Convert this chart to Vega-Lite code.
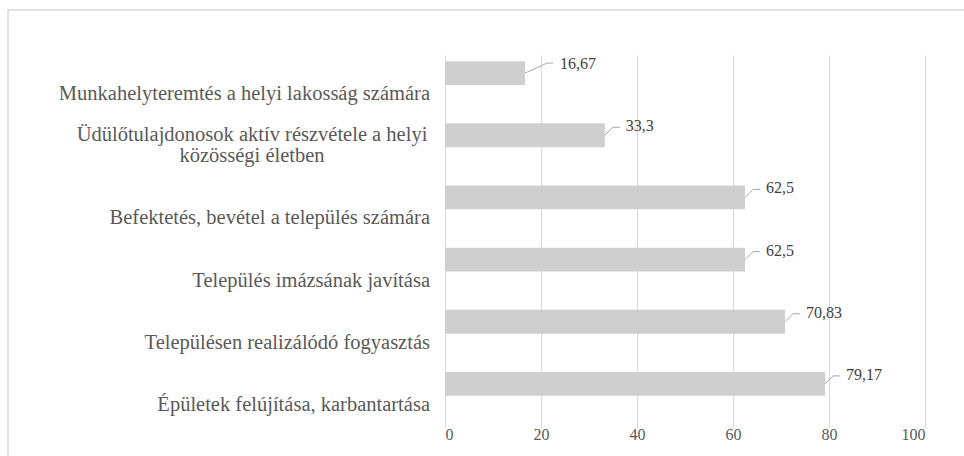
{
  "$schema": "https://vega.github.io/schema/vega-lite/v6.json",
  "width": 961,
  "height": 450,
  "autosize": {"type": "none"},
  "padding": {"left": 8, "top": 10, "right": -5, "bottom": -4},
  "background": "white",
  "config": {
    "view": {"stroke": "#d9d9d9", "strokeWidth": 1.5},
    "font": "Liberation Serif"
  },
  "data": {
    "values": [
      {"cat": "Munkahelyteremtés a helyi lakosság számára", "value": 16.67, "label": "16,67"},
      {"cat": "Üdülőtulajdonosok aktív részvétele a helyi\nközösségi életben", "value": 33.3, "label": "33,3"},
      {"cat": "Befektetés, bevétel a település számára", "value": 62.5, "label": "62,5"},
      {"cat": "Település imázsának javítása", "value": 62.5, "label": "62,5"},
      {"cat": "Településen realizálódó fogyasztás", "value": 70.83, "label": "70,83"},
      {"cat": "Épületek felújítása, karbantartása", "value": 79.17, "label": "79,17"}
    ]
  },
  "encoding": {
    "y": {
      "field": "cat",
      "type": "nominal",
      "sort": null,
      "axis": null,
      "scale": {
        "domain": [
          "Munkahelyteremtés a helyi lakosság számára",
          "Üdülőtulajdonosok aktív részvétele a helyi\nközösségi életben",
          "Befektetés, bevétel a település számára",
          "Település imázsának javítása",
          "Településen realizálódó fogyasztás",
          "Épületek felújítása, karbantartása"
        ],
        "range": [32, 405],
        "paddingInner": 0.616,
        "paddingOuter": 0.308
      }
    }
  },
  "layer": [
    {
      "mark": {"type": "bar", "color": "#cfcfcf"},
      "encoding": {
        "x": {
          "field": "value",
          "type": "quantitative",
          "scale": {"domain": [0, 100], "range": [437, 917]},
          "axis": {
            "values": [0, 20, 40, 60, 80, 100],
            "title": null,
            "grid": true,
            "gridColor": "#d9d9d9",
            "gridWidth": 1,
            "domain": false,
            "ticks": false,
            "tickSize": 0,
            "labelPadding": 11,
            "offset": -45,
            "labelFont": "Liberation Serif",
            "labelFontSize": 16,
            "labelColor": "#595959"
          }
        }
      }
    },
    {
      "transform": [{"filter": "indexof(datum.cat, '\\n') < 0"}],
      "mark": {"type": "text", "align": "right", "baseline": "middle", "dx": -15, "dy": 21, "fontSize": 20.5, "color": "#595959", "font": "Liberation Serif"},
      "encoding": {
        "x": {"datum": 0, "type": "quantitative"},
        "text": {"field": "cat"}
      }
    },
    {
      "transform": [{"filter": "indexof(datum.cat, '\\n') >= 0"}],
      "mark": {"type": "text", "align": "center", "baseline": "middle", "lineBreak": "\n", "lineHeight": 21, "dx": -193, "dy": 0, "fontSize": 20.5, "color": "#595959", "font": "Liberation Serif"},
      "encoding": {
        "x": {"datum": 0, "type": "quantitative"},
        "text": {"field": "cat"}
      }
    },
    {
      "transform": [{"filter": "datum.value < 20"}],
      "layer": [
        {
          "mark": {"type": "rule", "color": "#a6a6a6", "strokeWidth": 1, "x2Offset": 22, "y2Offset": -10},
          "encoding": {
            "x": {"field": "value", "type": "quantitative"},
            "x2": {"field": "value"},
            "y2": {"field": "cat"}
          }
        },
        {
          "mark": {"type": "rule", "color": "#a6a6a6", "strokeWidth": 1, "xOffset": 22, "x2Offset": 28, "yOffset": -10, "y2Offset": -10},
          "encoding": {
            "x": {"field": "value", "type": "quantitative"},
            "x2": {"field": "value"},
            "y2": {"field": "cat"}
          }
        },
        {
          "mark": {"type": "text", "align": "left", "baseline": "middle", "dx": 35, "dy": -9, "fontSize": 16, "color": "#404040", "font": "Liberation Serif"},
          "encoding": {
            "x": {"field": "value", "type": "quantitative"},
            "text": {"field": "label"}
          }
        }
      ]
    },
    {
      "transform": [{"filter": "datum.value >= 20"}],
      "layer": [
        {
          "mark": {"type": "rule", "color": "#a6a6a6", "strokeWidth": 1, "x2Offset": 8, "y2Offset": -8},
          "encoding": {
            "x": {"field": "value", "type": "quantitative"},
            "x2": {"field": "value"},
            "y2": {"field": "cat"}
          }
        },
        {
          "mark": {"type": "rule", "color": "#a6a6a6", "strokeWidth": 1, "xOffset": 8, "x2Offset": 15, "yOffset": -8, "y2Offset": -8},
          "encoding": {
            "x": {"field": "value", "type": "quantitative"},
            "x2": {"field": "value"},
            "y2": {"field": "cat"}
          }
        },
        {
          "mark": {"type": "text", "align": "left", "baseline": "middle", "dx": 21, "dy": -9, "fontSize": 16, "color": "#404040", "font": "Liberation Serif"},
          "encoding": {
            "x": {"field": "value", "type": "quantitative"},
            "text": {"field": "label"}
          }
        }
      ]
    }
  ]
}
